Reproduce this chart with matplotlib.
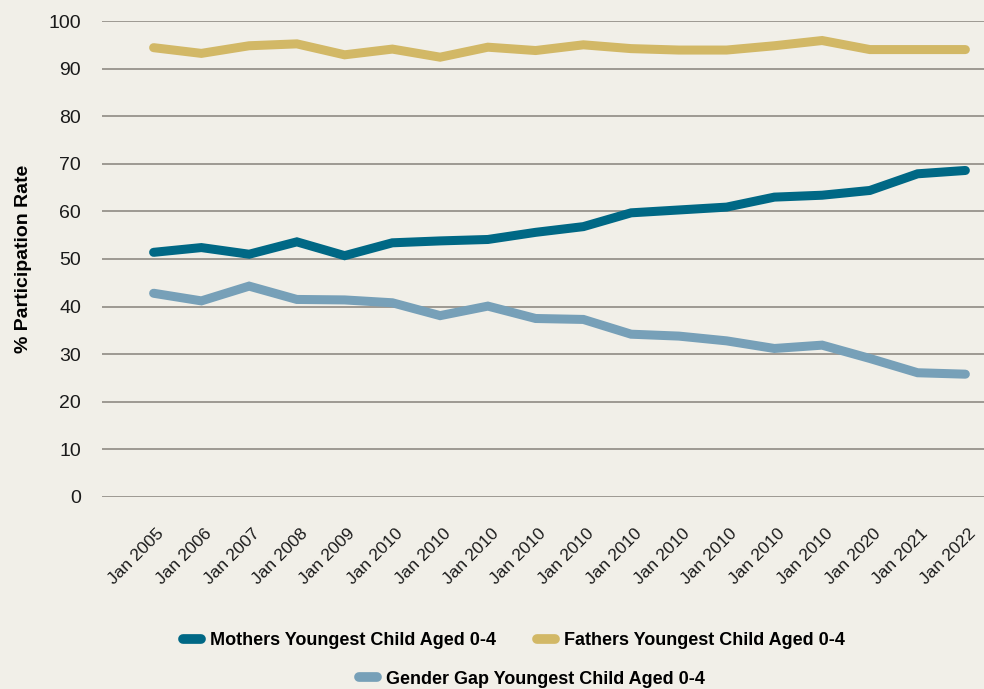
import matplotlib.pyplot as plt
import matplotlib.transforms as mtransforms
from matplotlib.lines import Line2D

# labels as shown on the chart (x axis)
dates = ["Jan 2005", "Jan 2006", "Jan 2007", "Jan 2008", "Jan 2009", "Jan 2010",
         "Jan 2010", "Jan 2010", "Jan 2010", "Jan 2010", "Jan 2010", "Jan 2010",
         "Jan 2010", "Jan 2010", "Jan 2010", "Jan 2020", "Jan 2021", "Jan 2022"]

mothers = [51.4, 52.4, 51.0, 53.6, 50.7, 53.4, 53.8, 54.1, 55.6, 56.8,
           59.7, 60.3, 60.9, 63.0, 63.4, 64.4, 67.9, 68.6]
fathers = [94.4, 93.2, 94.8, 95.2, 92.9, 94.1, 92.4, 94.5, 93.8, 95.0,
           94.2, 93.9, 93.9, 94.8, 95.9, 94.0, 94.0, 94.0]
gap = [42.8, 41.2, 44.3, 41.5, 41.4, 40.8, 38.1, 40.1, 37.5, 37.3,
       34.2, 33.8, 32.8, 31.2, 31.9, 29.1, 26.1, 25.8]

bg = '#f1efe8'
c_mom = '#006885'
c_dad = '#d2b866'
c_gap = '#77a0b8'

plt.rcParams['font.family'] = ['Liberation Sans', 'DejaVu Sans']

fig = plt.figure(figsize=(9.84, 6.89), dpi=100, facecolor=bg)
ax = fig.add_axes([0.1037, 0.2787, 0.8963, 0.6908])
ax.set_facecolor(bg)

x = list(range(len(dates)))
for vals, col in [(fathers, c_dad), (gap, c_gap), (mothers, c_mom)]:
    ax.plot(x, vals, color=col, lw=6.5, solid_capstyle='round', solid_joinstyle='miter')

ax.set_ylim(0, 100)
ax.set_xlim(-1.08, 17.39)
ax.set_yticks(range(0, 101, 10))
ax.yaxis.grid(True, color='#97938c', lw=1.3)
ax.set_axisbelow(True)
for s in ax.spines.values():
    s.set_visible(False)
ax.tick_params(axis='both', length=0, colors='#1a1a1a')
ax.tick_params(axis='y', pad=15, labelsize=14)
ax.set_xticks(x)
ax.set_xticklabels(dates, rotation=45, ha='right', va='top',
                   rotation_mode='anchor', fontsize=12.5)
ax.tick_params(axis='x', pad=21)
shift = mtransforms.ScaledTranslation(0.03, 0, fig.dpi_scale_trans)
for lab in ax.get_xticklabels():
    lab.set_transform(lab.get_transform() + shift)
ax.set_ylabel('% Participation Rate', fontsize=14, fontweight='bold', labelpad=12)

def handle(c):
    return Line2D([], [], color=c, lw=7, solid_capstyle='round')

leg1 = fig.legend([handle(c_mom), handle(c_dad)],
                  ['Mothers Youngest Child Aged 0-4', 'Fathers Youngest Child Aged 0-4'],
                  loc='center', bbox_to_anchor=(0.5224, 0.0697), ncol=2, frameon=False,
                  handlelength=1.0, columnspacing=2.3, handletextpad=0.5,
                  prop={'weight': 'bold', 'size': 13})
leg2 = fig.legend([handle(c_gap)], ['Gender Gap Youngest Child Aged 0-4'],
                  loc='center', bbox_to_anchor=(0.541, 0.0145), frameon=False,
                  handlelength=1.0, handletextpad=0.5,
                  prop={'weight': 'bold', 'size': 13})

fig.savefig('out.png', dpi=100, facecolor=bg)
